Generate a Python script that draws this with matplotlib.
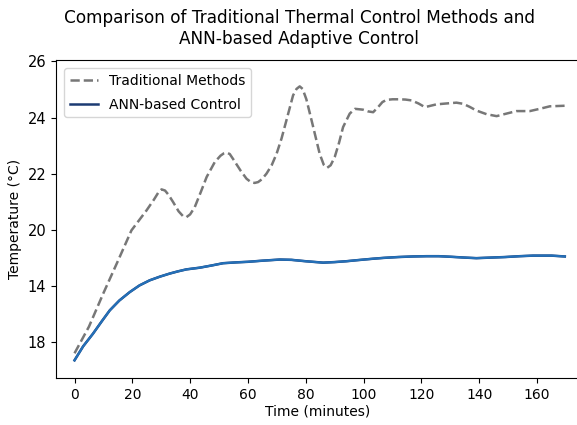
import matplotlib
matplotlib.use("Agg")
import matplotlib.pyplot as plt

# values (minutes, axis position units)
trad_time = [0, 5, 9.9, 15.1, 19.7, 24.9, 27.5, 29.0, 30.1, 31.3, 32.5, 34.1, 36.0, 37.5,
             38.7, 40.0, 41.6, 43.7, 45.7, 48.5, 50.5, 51.6, 52.6, 53.7, 55.0, 57.5, 59.5,
             61.0, 62.3, 63.5, 64.8, 66.4, 68.2, 69.9, 71.6, 73.3, 75.6, 76.8, 77.9, 78.9,
             80.2, 82.0, 84.8, 86.2, 87.4, 88.6, 90.0, 91.5, 92.9, 95.2, 97.0, 99.8, 101.5,
             103.3, 105.0, 106.5, 107.9, 110, 112.5, 114.5, 116.6, 119, 121.2, 125.2, 128.5,
             132.1, 134.4, 136.7, 139.0, 142.5, 146.0, 149.4, 152.9, 157.5, 160.9, 164.4, 169.6]
trad_temp = [15.6, 16.55, 17.72, 18.91, 19.98, 20.69, 21.08, 21.33, 21.44, 21.40, 21.25, 20.99,
             20.66, 20.49, 20.45, 20.55, 20.81, 21.35, 21.88, 22.41, 22.64, 22.72, 22.75, 22.70,
             22.50, 22.10, 21.82, 21.70, 21.67, 21.70, 21.80, 22.0, 22.30, 22.71, 23.25, 23.90,
             24.79, 25.02, 25.11, 25.02, 24.65, 23.90, 22.71, 22.32, 22.21, 22.30, 22.59, 23.10,
             23.66, 24.14, 24.31, 24.28, 24.22, 24.19, 24.37, 24.55, 24.63, 24.65, 24.65, 24.64,
             24.61, 24.50, 24.37, 24.47, 24.50, 24.53, 24.49, 24.38, 24.25, 24.12, 24.05, 24.14,
             24.23, 24.23, 24.31, 24.40, 24.42]

ann_time = [0, 3, 6.4, 9.5, 12.2, 15.5, 19.1, 22.5, 26.0, 29.5, 32.9, 35.8, 38.7, 43.3,
            47.5, 51.4, 56, 60, 65, 71.0, 75, 80, 86.0, 90, 94, 98, 103.3, 107, 112, 117,
            121.8, 126, 130, 135, 139.0, 144, 149, 154, 158.6, 162, 165, 169.6]
ann_temp = [15.35, 15.85, 16.30, 16.75, 17.13, 17.48, 17.78, 18.02, 18.20, 18.33, 18.44, 18.52,
            18.59, 18.65, 18.73, 18.81, 18.84, 18.86, 18.90, 18.94, 18.93, 18.88, 18.83, 18.85,
            18.88, 18.92, 18.97, 19.00, 19.03, 19.05, 19.06, 19.06, 19.04, 19.01, 18.99, 19.01,
            19.03, 19.06, 19.08, 19.08, 19.08, 19.05]

ytick_pos = [16, 18, 20, 22, 24, 26]
ytick_labels = ['18', '14', '20', '22', '24', '26']
xtick_pos = [0, 20, 40, 60, 80, 100, 120, 140, 160]

W, H = 577, 425
fig = plt.figure(figsize=(W / 100, H / 100), dpi=100)
ax = fig.add_axes([56 / W, 1 - 378 / H, 523 / W, 318 / H])

ax.plot(trad_time, trad_temp, linestyle='--', color='#777777', linewidth=1.8,
        label='Traditional Methods')
# legend shows a navy line, the drawn curve is a lighter blue on top
ax.plot(ann_time, ann_temp, color='#1c3b73', linewidth=1.8, label='ANN-based Control')
ax.plot(ann_time, ann_temp, color='#2470b8', linewidth=1.6)

ax.set_xlim(-6.4, 174.5)
ax.set_ylim(14.72, 26.05)
ax.set_xticks(xtick_pos)
ax.set_yticks(ytick_pos)
ax.set_yticklabels(ytick_labels)
ax.tick_params(axis='x', labelsize=10)
ax.tick_params(axis='y', labelsize=10.5)

ax.set_xlabel('Time (minutes)', fontsize=10, labelpad=2)
ax.set_ylabel('Temperature (°C)', fontsize=10)
ax.spines['right'].set_visible(False)

ax.legend(loc='upper left', fontsize=10, frameon=True, labelspacing=0.7,
          borderaxespad=0.6)

fig.text(299 / W, 1 - 9 / H, 'Comparison of Traditional Thermal Control Methods and\nANN-based Adaptive Control',
         ha='center', va='top', fontsize=12.2, linespacing=1.2)

fig.savefig('out.png', dpi=100)
